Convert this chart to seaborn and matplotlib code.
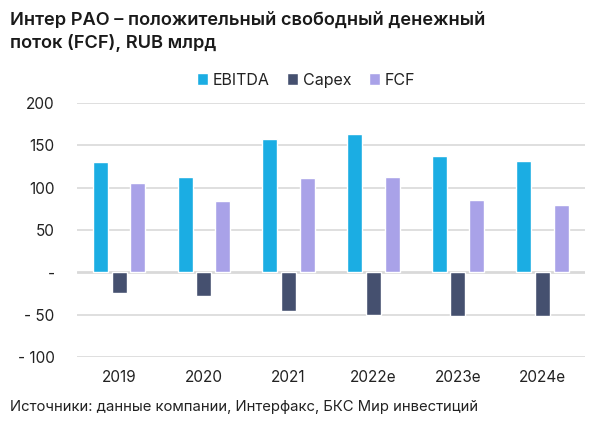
import matplotlib
matplotlib.use("Agg")
import matplotlib.pyplot as plt
import seaborn as sns
import pandas as pd

years = ["2019", "2020", "2021", "2022e", "2023e", "2024e"]
ebitda = [130, 113, 157, 164, 137, 131]
capex = [-24, -28, -46, -50, -51, -52]
fcf = [106, 84, 111, 113, 86, 79]
series = ["EBITDA", "Capex", "FCF"]
colors = ["#1BADE3", "#45506F", "#A9A2E8"]
ytick_vals = [200, 150, 100, 50, 0, -50, -100]
ytick_labels = ["200", "150", "100", "50", "-", "- 50", "- 100"]
title = "Интер РАО – положительный свободный денежный\nпоток (FCF), RUB млрд"
source = "Источники: данные компании, Интерфакс, БКС Мир инвестиций"

df = pd.DataFrame({
    "year": years * 3,
    "value": ebitda + capex + fcf,
    "series": [s for s in series for _ in years],
})

sns.set_theme(style="white")
plt.rcParams["font.family"] = ["Inter", "DejaVu Sans"]

fig = plt.figure(figsize=(6, 4.24), dpi=100)
ax = fig.add_axes([0.128, 0.158, 0.847, 0.599])

sns.barplot(data=df, x="year", y="value", hue="series", palette=colors,
            width=0.666, gap=0.2, ax=ax, legend=True, saturation=1)

ax.set_ylim(-100, 200)
ax.set_xlim(-0.5, 5.5)
ax.set_yticks(ytick_vals)
ax.set_yticklabels(ytick_labels)
for y in ytick_vals:
    ax.axhline(y, color="#D9D9D9", lw=2.0 if y == 0 else 1.2, zorder=0)
ax.set_xlabel("")
ax.set_ylabel("")
for s in ax.spines.values():
    s.set_visible(False)
ax.tick_params(axis="both", length=0, labelsize=11, colors="#222222")
ax.tick_params(axis="y", pad=16)
ax.tick_params(axis="x", pad=9)

leg = ax.legend(loc="center", bbox_to_anchor=(0.51, 0.811), bbox_transform=fig.transFigure,
                ncol=3, frameon=False,
                fontsize=11.5, handlelength=0.7, handleheight=0.7,
                handletextpad=0.3, columnspacing=1.1)
for t in leg.get_texts():
    t.set_color("#222222")

fig.text(0.017, 0.972, title, ha="left", va="top", fontsize=13.1,
         fontweight="semibold", color="#1a1a1a", linespacing=1.35)
fig.text(0.017, 0.04, source, ha="left", va="center", fontsize=10.7, color="#222222")

fig.savefig("out.png", dpi=100)
